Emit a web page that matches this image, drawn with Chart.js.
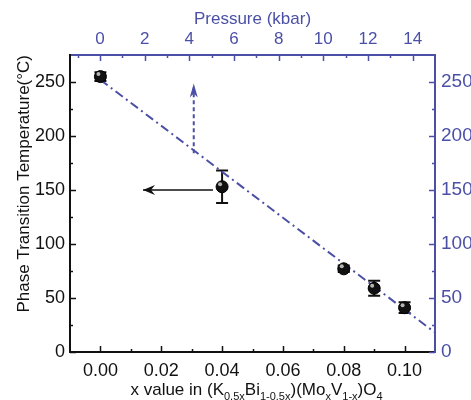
<!DOCTYPE html>
<html>
<head>
<meta charset="utf-8">
<script src="https://cdn.jsdelivr.net/npm/chart.js@4"></script>
<style>
  html, body { margin: 0; padding: 0; background: #fff; }
  canvas { display: block; }
</style>
</head>
<body>
<canvas id="phaseChart" width="471" height="400"></canvas>
<script>
// data
const compositionX = [0.00, 0.04, 0.08, 0.09, 0.10];
const transitionT = [255, 153, 77, 59, 41];
const transitionErr = [4, 15, 3, 7, 5];

// dash-dot guide line
const fitX = [0.00, 0.11];
const fitT = [252, 18];

// arrows (x value / pressure, temperature)
const compArrowX = [0.037, 0.014];
const compArrowT = [150, 150];
const pressArrowP = [4.2, 4.2];
const pressArrowT = [184, 245];

const xTicks = [0.00, 0.02, 0.04, 0.06, 0.08, 0.10];
const xMinor = [0.01, 0.03, 0.05, 0.07, 0.09];
const pTicks = [0, 2, 4, 6, 8, 10, 12, 14];
const pMinor = [-1, 1, 3, 5, 7, 9, 11, 13];
const tTicks = [0, 50, 100, 150, 200, 250];
const tMinor = [25, 75, 125, 175, 225];

const BLUE = "#4b50a6";
const FONT = "'Liberation Sans', Arial, sans-serif";

const toPoints = (xs, ys) => xs.map((x, i) => ({ x, y: ys[i] }));
const setTicks = (vals) => (scale) => { scale.ticks = vals.map((v) => ({ value: v })); };

// inside tick marks, error bars, arrow heads, subscripted x title
const decorations = {
  id: "decorations",
  beforeDatasetsDraw(chart) {
    const { ctx, scales } = chart;
    ctx.save();
    ctx.strokeStyle = "#111";
    ctx.lineWidth = 2;
    compositionX.forEach((x, i) => {
      const px = scales.x.getPixelForValue(x);
      const top = scales.y.getPixelForValue(transitionT[i] + transitionErr[i]);
      const bot = scales.y.getPixelForValue(transitionT[i] - transitionErr[i]);
      ctx.beginPath();
      ctx.moveTo(px, top); ctx.lineTo(px, bot);
      ctx.moveTo(px - 6, top); ctx.lineTo(px + 6, top);
      ctx.moveTo(px - 6, bot); ctx.lineTo(px + 6, bot);
      ctx.stroke();
    });
    ctx.restore();
  },
  afterDatasetsDraw(chart) {
    const { ctx, scales } = chart;
    ctx.save();
    // highlight on the balls
    compositionX.forEach((x, i) => {
      const px = scales.x.getPixelForValue(x);
      const py = scales.y.getPixelForValue(transitionT[i]);
      ctx.fillStyle = "rgba(200,200,200,0.9)";
      ctx.beginPath();
      ctx.arc(px - 2, py - 2.5, 2, 0, Math.PI * 2);
      ctx.fill();
    });
    // arrow head, composition arrow
    const ax = scales.x.getPixelForValue(compArrowX[1]);
    const ay = scales.y.getPixelForValue(compArrowT[1]);
    ctx.fillStyle = "#111";
    ctx.beginPath();
    ctx.moveTo(ax, ay);
    ctx.lineTo(ax + 12, ay - 5);
    ctx.lineTo(ax + 8, ay);
    ctx.lineTo(ax + 12, ay + 5);
    ctx.closePath();
    ctx.fill();
    // arrow head, pressure arrow
    const bx = scales.x2.getPixelForValue(pressArrowP[1]);
    const by = scales.y.getPixelForValue(pressArrowT[1]);
    ctx.fillStyle = BLUE;
    ctx.beginPath();
    ctx.moveTo(bx, by - 4);
    ctx.lineTo(bx - 4, by + 10);
    ctx.lineTo(bx, by + 6);
    ctx.lineTo(bx + 4, by + 10);
    ctx.closePath();
    ctx.fill();
    ctx.restore();
  },
  afterDraw(chart) {
    const { ctx, scales, chartArea: a } = chart;
    ctx.save();
    ctx.lineWidth = 1.5;
    const vTicks = (scale, vals, len, y0, dir, color) => {
      ctx.strokeStyle = color;
      ctx.beginPath();
      vals.forEach((v) => {
        const p = Math.round(scale.getPixelForValue(v)) + 0.5;
        ctx.moveTo(p, y0); ctx.lineTo(p, y0 + dir * len);
      });
      ctx.stroke();
    };
    const hTicks = (scale, vals, len, x0, dir, color) => {
      ctx.strokeStyle = color;
      ctx.beginPath();
      vals.forEach((v) => {
        const p = Math.round(scale.getPixelForValue(v)) + 0.5;
        ctx.moveTo(x0, p); ctx.lineTo(x0 + dir * len, p);
      });
      ctx.stroke();
    };
    vTicks(scales.x, xTicks, 6, a.bottom, -1, "#111");
    vTicks(scales.x, xMinor, 3, a.bottom, -1, "#111");
    vTicks(scales.x2, pTicks, 6, a.top, 1, BLUE);
    vTicks(scales.x2, pMinor, 3, a.top, 1, BLUE);
    hTicks(scales.y, tTicks, 6, a.left, 1, "#111");
    hTicks(scales.y, tMinor, 3, a.left, 1, "#111");
    hTicks(scales.y2, tTicks, 6, a.right, -1, BLUE);
    hTicks(scales.y2, tMinor, 3, a.right, -1, BLUE);

    // x axis title with subscripts
    const parts = [
      ["x value in (K", false], ["0.5x", true], ["Bi", false], ["1-0.5x", true],
      [")(Mo", false], ["x", true], ["V", false], ["1-x", true], [")O", false], ["4", true],
    ];
    const big = "17px " + FONT, small = "11px " + FONT;
    let total = 0;
    parts.forEach(([t, sub]) => { ctx.font = sub ? small : big; total += ctx.measureText(t).width; });
    let x = (a.left + a.right) / 2 + 4 - total / 2;
    const base = 395;
    ctx.fillStyle = "#111";
    ctx.textBaseline = "alphabetic";
    ctx.textAlign = "left";
    parts.forEach(([t, sub]) => {
      ctx.font = sub ? small : big;
      ctx.fillText(t, x, sub ? base + 5 : base);
      x += ctx.measureText(t).width;
    });
    ctx.restore();
  },
};

new Chart(document.getElementById("phaseChart").getContext("2d"), {
  type: "scatter",
  data: {
    datasets: [
      {
        label: "Tc",
        data: toPoints(compositionX, transitionT),
        backgroundColor: "#111",
        borderColor: "#000",
        borderWidth: 1,
        pointRadius: 6,
        order: 0,
      },
      {
        type: "line",
        label: "guide",
        data: toPoints(fitX, fitT),
        borderColor: BLUE,
        borderWidth: 2,
        borderDash: [9, 4, 2, 4],
        pointRadius: 0,
        order: 2,
      },
      {
        type: "line",
        label: "composition arrow",
        data: toPoints(compArrowX, compArrowT),
        borderColor: "#111",
        borderWidth: 1.5,
        pointRadius: 0,
        order: 1,
      },
      {
        type: "line",
        label: "pressure arrow",
        xAxisID: "x2",
        data: toPoints(pressArrowP, pressArrowT),
        borderColor: BLUE,
        borderWidth: 2,
        borderDash: [4, 3],
        pointRadius: 0,
        order: 1,
      },
    ],
  },
  options: {
    responsive: false,
    animation: false,
    layout: { padding: 0 },
    plugins: {
      legend: { display: false },
      tooltip: { enabled: false },
    },
    scales: {
      x: {
        type: "linear",
        position: "bottom",
        min: -0.01,
        max: 0.11,
        afterBuildTicks: setTicks(xTicks),
        afterFit: (s) => { s.height = 48; },
        grid: { display: false, drawTicks: false },
        border: { display: true, color: "#111", width: 2 },
        ticks: {
          color: "#111",
          padding: 8,
          font: { family: FONT, size: 18 },
          callback: (v) => v.toFixed(2),
        },
      },
      x2: {
        type: "linear",
        position: "top",
        min: -1.34,
        max: 15,
        afterBuildTicks: setTicks(pTicks),
        afterFit: (s) => { s.height = 55; },
        grid: { display: false, drawTicks: false },
        border: { display: true, color: BLUE, width: 2 },
        ticks: { color: BLUE, padding: 5, font: { family: FONT, size: 17 } },
        title: {
          display: true,
          text: "Pressure (kbar)",
          color: BLUE,
          font: { family: FONT, size: 17 },
          padding: { top: 9, bottom: 0 },
        },
      },
      y: {
        type: "linear",
        position: "left",
        min: 0,
        max: 275,
        afterBuildTicks: setTicks(tTicks),
        afterFit: (s) => { s.width = 70; },
        grid: { display: false, drawTicks: false },
        border: { display: true, color: "#111", width: 2 },
        ticks: { color: "#111", padding: 5, font: { family: FONT, size: 18 } },
        title: {
          display: true,
          text: "Phase Transition Temperature(\u00B0C)",
          align: "end",
          color: "#111",
          font: { family: FONT, size: 17 },
          padding: { top: 14, bottom: 0 },
        },
      },
      y2: {
        type: "linear",
        position: "right",
        min: 0,
        max: 275,
        afterBuildTicks: setTicks(tTicks),
        afterFit: (s) => { s.width = 36; },
        grid: { display: false, drawTicks: false },
        border: { display: true, color: BLUE, width: 2 },
        ticks: { color: BLUE, padding: 6, font: { family: FONT, size: 19 } },
      },
    },
  },
  plugins: [decorations],
});
</script>
</body>
</html>
